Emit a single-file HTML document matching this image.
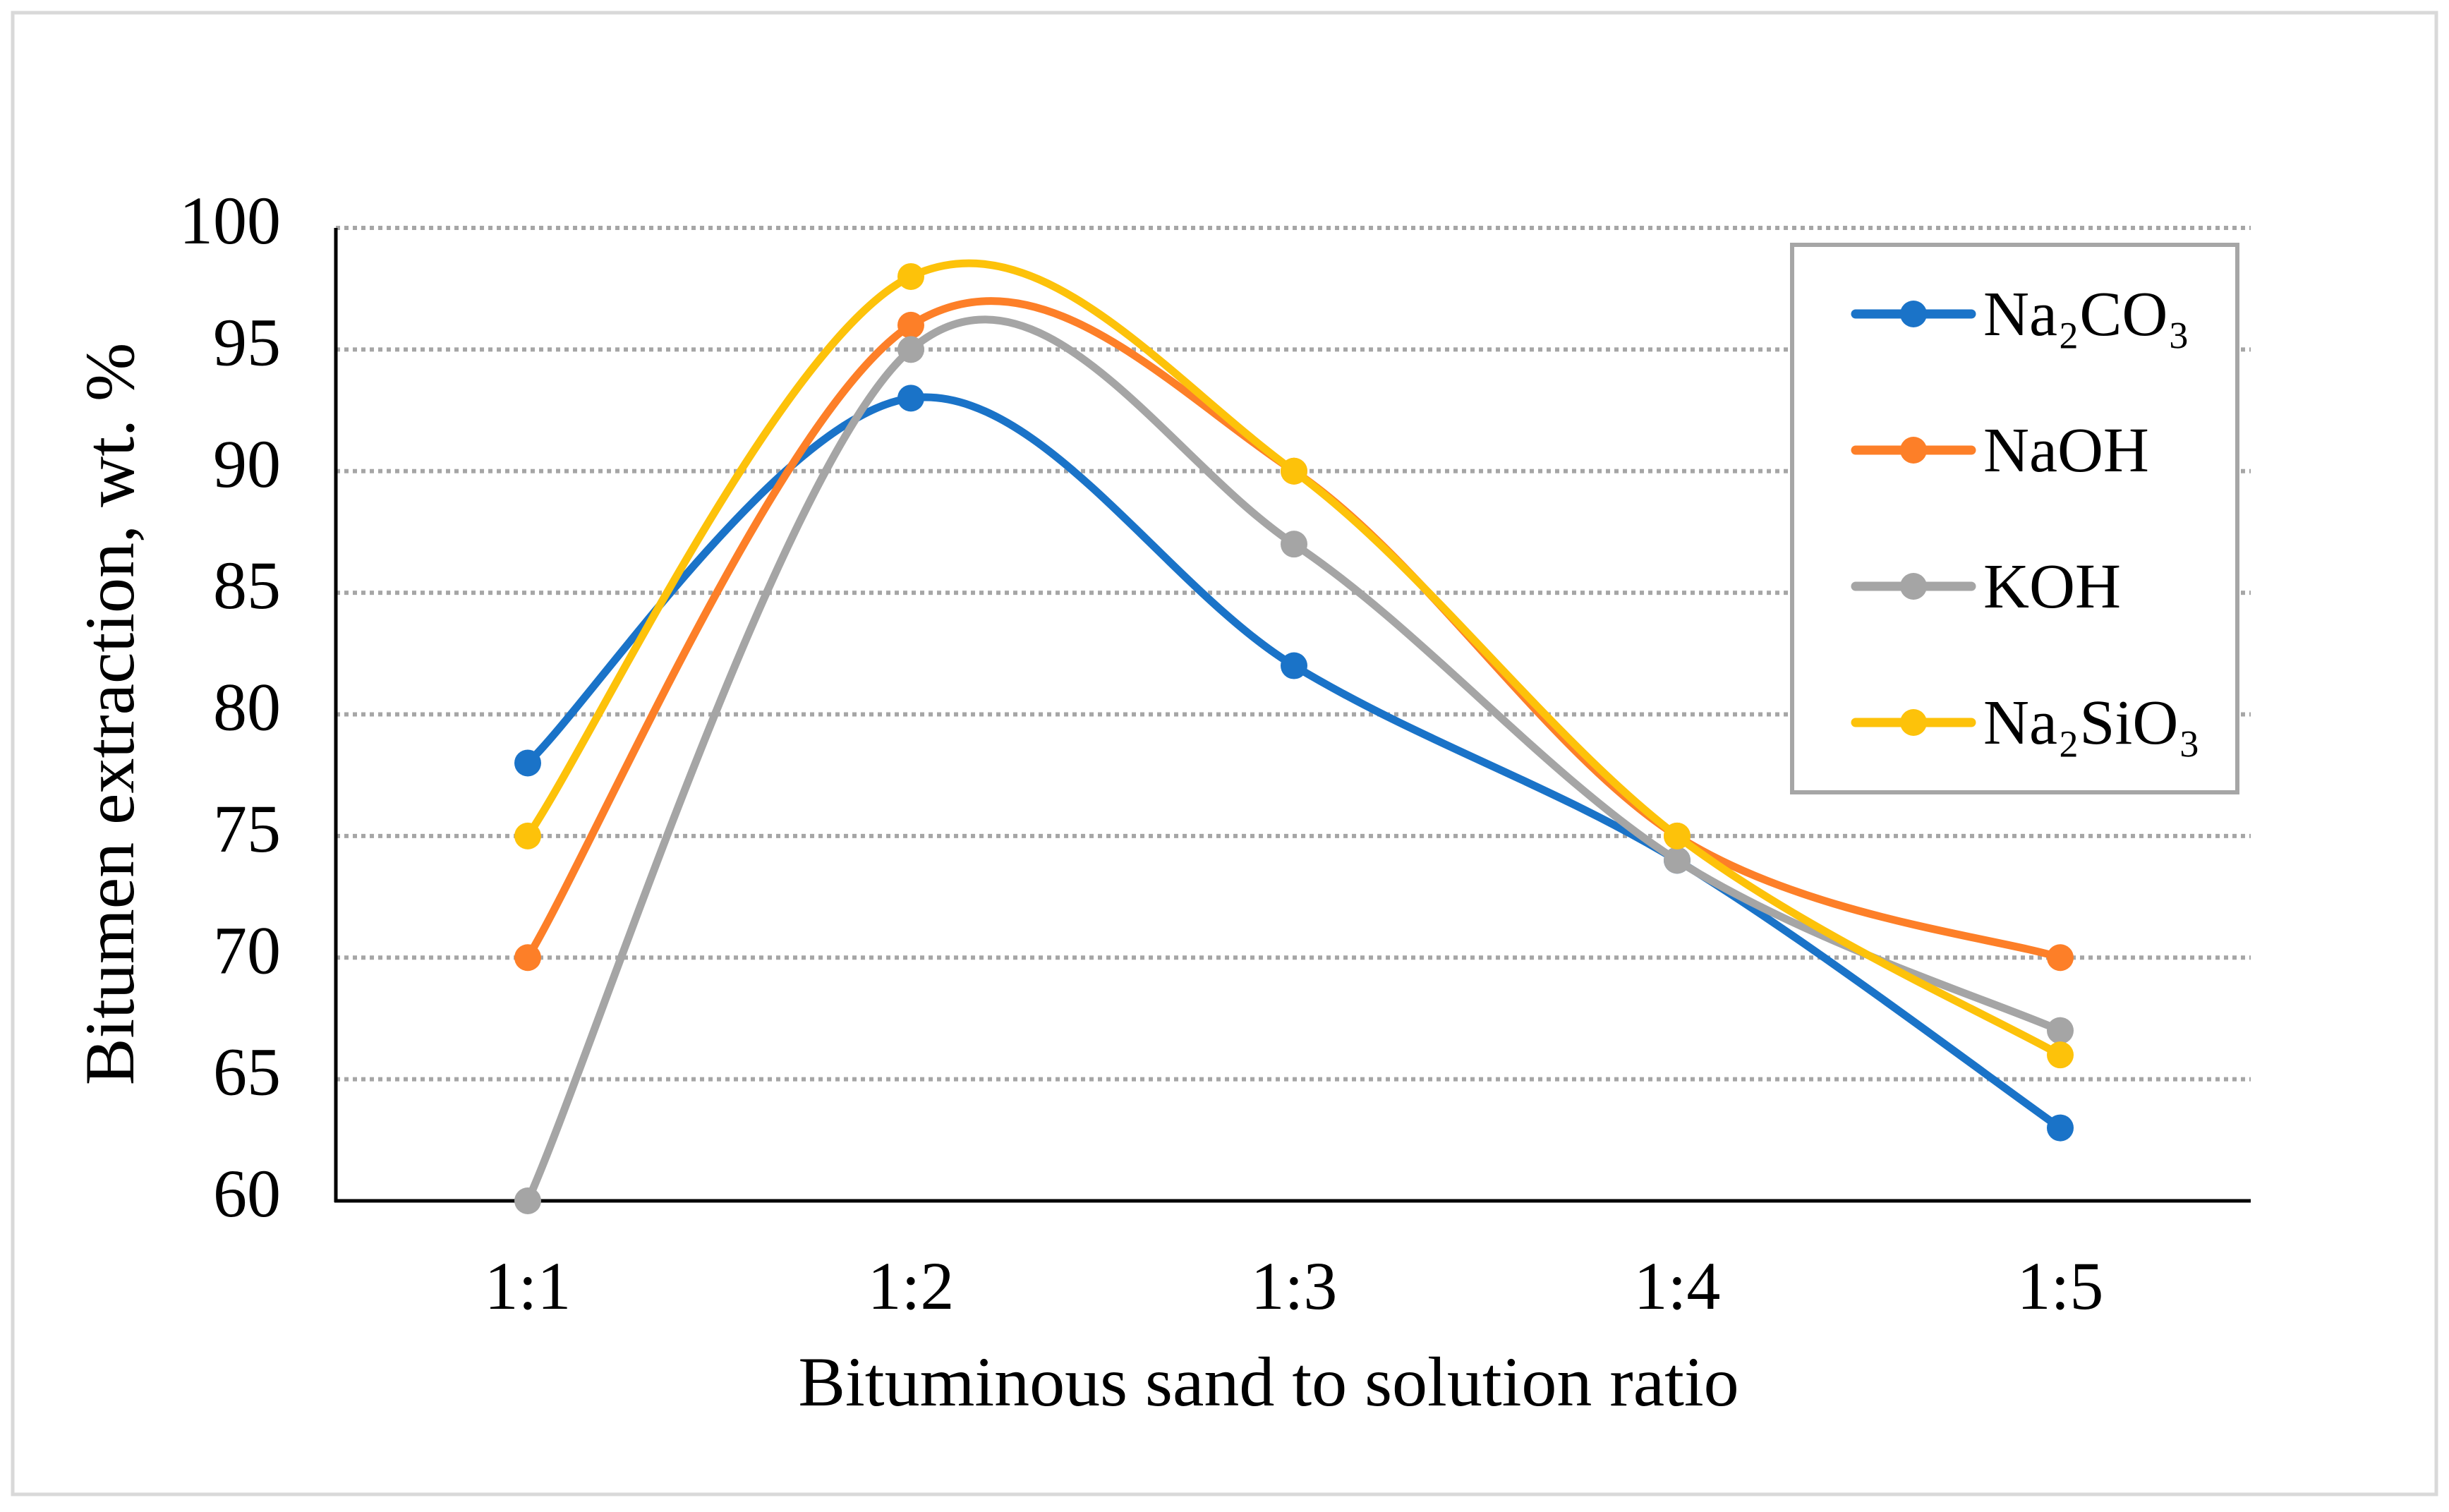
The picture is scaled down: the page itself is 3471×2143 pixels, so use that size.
<!DOCTYPE html>
<html><head><meta charset="utf-8"><style>
html,body{margin:0;padding:0;background:#fff}
svg text{font-family:"Liberation Serif",serif;fill:#000}
</style></head><body>
<svg width="3471" height="2138" viewBox="0 0 3471 2138" xmlns="http://www.w3.org/2000/svg">
<rect x="18" y="18" width="3435" height="2100" fill="#fff" stroke="#d9d9d9" stroke-width="5"/>
<g id="grid"></g>
<g id="axes"></g>
<g id="series"></g>
<text x="166" y="1012" font-size="100" text-anchor="middle" dominant-baseline="middle" transform="rotate(-90 166 1012)">Bitumen extraction, wt. %</text>
<text x="1798" y="1992" font-size="100" text-anchor="middle">Bituminous sand to solution ratio</text>
<g>
<rect x="2540" y="347" width="631" height="776" fill="#fff" stroke="#a6a6a6" stroke-width="6"/>
<g id="legend"></g>
</g>
</svg>
<script>
const categories=["1:1","1:2","1:3","1:4","1:5"];
const seriesNames=["Na₂CO₃","NaOH","KOH","Na₂SiO₃"];
const na2co3=[78,93,82,74,63];
const naoh=[70,96,90,75,70];
const koh=[60,95,87,74,67];
const na2sio3=[75,98,90,75,66];
const yTicks=[60,65,70,75,80,85,90,95,100];
const colors=["#1a73c8","#fd7f28","#a5a5a5","#fdc20a"];
const allSeries=[na2co3,naoh,koh,na2sio3];
const NS="http://www.w3.org/2000/svg";
const L=476,R=3190,T=323,B=1702,ymin=60,ymax=100;
const xs=i=>748+i*(2920-748)/(categories.length-1);
const ys=v=>B-(v-ymin)/(ymax-ymin)*(B-T);
function mk(t,a,p){const e=document.createElementNS(NS,t);for(const k in a)e.setAttribute(k,a[k]);p.appendChild(e);return e;}
const grid=document.getElementById('grid'),axes=document.getElementById('axes'),ser=document.getElementById('series'),leg=document.getElementById('legend');
yTicks.forEach(v=>{
 if(v>ymin){const g=mk('line',{x1:L,x2:R,y1:ys(v),y2:ys(v),stroke:'#a6a6a6','stroke-width':6,'stroke-dasharray':'6 6'},grid);
 
 }
 const t=mk('text',{x:398,y:ys(v),'font-size':96,'text-anchor':'end','dominant-baseline':'middle'},axes);t.textContent=v;
 
 
});
categories.forEach((c,i)=>{const t=mk('text',{x:xs(i),y:1855,'font-size':96,'text-anchor':'middle'},axes);t.textContent=c;
 
 });
const ya=mk('line',{x1:L,x2:L,y1:T,y2:B+2,stroke:'#000','stroke-width':5},axes);


const xa=mk('line',{x1:L-2,x2:R,y1:B,y2:B,stroke:'#000','stroke-width':5},axes);


allSeries.forEach((vals,s)=>{
 const p=vals.map((v,i)=>[xs(i),ys(v)]);
 let d='M'+p[0][0]+','+p[0][1];
 for(let i=0;i<p.length-1;i++){
  const p0=p[Math.max(0,i-1)],p1=p[i],p2=p[i+1],p3=p[Math.min(p.length-1,i+2)];
  const c1=[p1[0]+(p2[0]-p0[0])/6,p1[1]+(p2[1]-p0[1])/6],c2=[p2[0]-(p3[0]-p1[0])/6,p2[1]-(p3[1]-p1[1])/6];
  d+=' C'+c1+' '+c2+' '+p2;
 }
 const path=mk('path',{d:d,fill:'none',stroke:colors[s],'stroke-width':11,'stroke-linecap':'round'},ser);
 
 
 p.forEach((q,i)=>{const c=mk('circle',{cx:q[0],cy:q[1],r:19,fill:colors[s]},ser);
  
  });
 const ly=445+s*193;
 const ll=mk('line',{x1:2630,x2:2794,y1:ly,y2:ly,stroke:colors[s],'stroke-width':13,'stroke-linecap':'round'},leg);
 
 
 const lc=mk('circle',{cx:2712,cy:ly,r:19,fill:colors[s]},leg);
 
 
 const lt=mk('text',{x:2811,y:ly+30,'font-size':90},leg);lt.textContent=seriesNames[s];
 
 
});
</script>
</body></html>
